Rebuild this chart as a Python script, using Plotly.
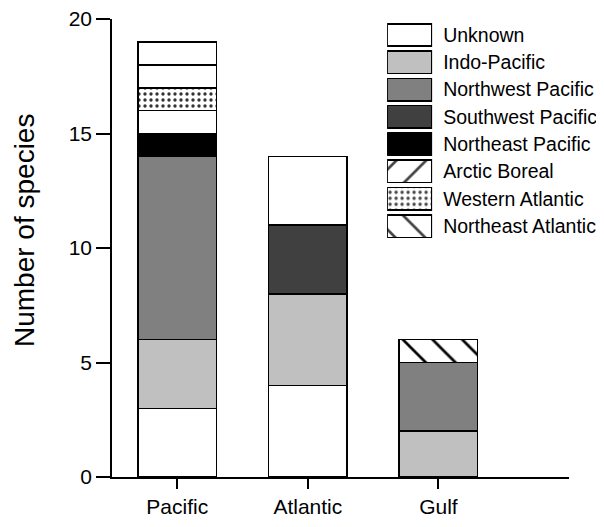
import plotly.graph_objects as go

categories = ["Pacific", "Atlantic", "Gulf"]

# stacked segments, bottom to top
unknown_low = [3, 4, 0]
indo_pacific = [3, 4, 2]
nw_pacific = [8, 0, 3]
sw_pacific = [0, 3, 0]
ne_pacific = [1, 0, 0]
arctic_boreal = [1, 0, 0]
western_atlantic = [1, 0, 0]
ne_atlantic = [1, 0, 1]
unknown_high = [1, 3, 0]

y_ticks = [0, 5, 10, 15, 20]

legend_names = ["Unknown", "Indo-Pacific", "Northwest Pacific", "Southwest Pacific",
                "Northeast Pacific", "Arctic Boreal", "Western Atlantic", "Northeast Atlantic"]

FONT = "Liberation Sans, Arial, sans-serif"
LINE = dict(color="black", width=1.6)
DOT_FG = "#333333"

fig = go.Figure()

segments = [
    (unknown_low, "white", ""),
    (indo_pacific, "#c0c0c0", ""),
    (nw_pacific, "#808080", ""),
    (sw_pacific, "#404040", ""),
    (ne_pacific, "black", ""),
    (arctic_boreal, "white", ""),
    (western_atlantic, "white", "."),
    (ne_atlantic, "white", ["", "", "\\"]),
    (unknown_high, "white", ""),
]

for vals, col, pat in segments:
    dotted = pat == "."
    fig.add_trace(go.Bar(
        x=categories, y=vals, width=0.6,
        marker=dict(color=col, line=LINE,
                    pattern=dict(shape=pat, fgcolor=DOT_FG if dotted else "black",
                                 bgcolor="white", size=6 if dotted else 21,
                                 solidity=0.25 if dotted else 0.13, fgopacity=1)),
        showlegend=False, hoverinfo="skip"))

# custom legend drawn as horizontal bars on a second axis
leg_fill = ["white", "#c0c0c0", "#808080", "#404040", "black", "white", "white", "white"]
leg_shape = ["", "", "", "", "", "/", ".", "\\"]
leg_size = [8, 8, 8, 8, 8, 21, 6, 21]
leg_sol = [0.2, 0.2, 0.2, 0.2, 0.2, 0.13, 0.25, 0.13]
leg_fg = ["black"] * 6 + [DOT_FG, "black"]

fig.add_trace(go.Bar(
    x=[1] * len(legend_names), y=legend_names, orientation="h", width=0.82,
    xaxis="x2", yaxis="y2",
    marker=dict(color=leg_fill, line=LINE,
                pattern=dict(shape=leg_shape, size=leg_size, solidity=leg_sol,
                             fgcolor=leg_fg, bgcolor="white", fgopacity=1)),
    showlegend=False, hoverinfo="skip"))

fig.add_annotation(text="Number of species", textangle=-90, xref="paper", yref="paper",
                   x=-0.19, y=0.5375, xanchor="center", yanchor="middle",
                   showarrow=False, font=dict(size=28))

fig.update_layout(
    width=596, height=519,
    margin=dict(l=104, r=35, t=11, b=50, pad=0),
    paper_bgcolor="white", plot_bgcolor="white",
    barmode="stack",
    font=dict(family=FONT, size=21, color="black"),
    xaxis=dict(range=[-0.5, 3.0], showline=True, linecolor="black", linewidth=1.6,
               ticks="outside", ticklen=10, tickwidth=1.6, tickcolor="black",
               showgrid=False, zeroline=False, tickfont=dict(size=21),
               automargin=False),
    yaxis=dict(range=[0, 20.0001], showline=True, linecolor="black", linewidth=1.6,
               ticks="outside", ticklen=14, tickwidth=1.6, tickcolor="black",
               tickvals=y_ticks, showgrid=False, zeroline=False,
               tickfont=dict(size=21), ticklabeloverflow="allow", automargin=False),
    xaxis2=dict(domain=[0.602, 0.7005], range=[0, 1], anchor="y2", visible=False,
                fixedrange=True, automargin=False),
    yaxis2=dict(domain=[0.518, 0.995], anchor="x2", side="right", showline=False,
                showgrid=False, zeroline=False, ticks="", autorange="reversed",
                tickfont=dict(size=19.5), ticklabelstandoff=10, automargin=False,
                ticklabeloverflow="allow"),
)

fig.write_html("out.html")
